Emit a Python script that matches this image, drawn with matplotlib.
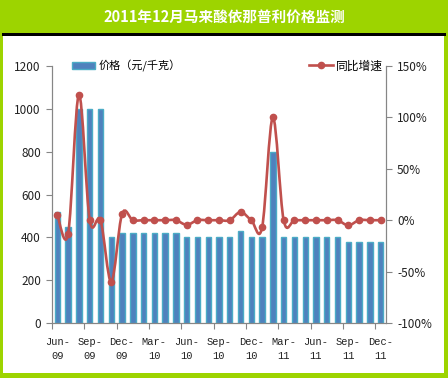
import numpy as np
import matplotlib
matplotlib.use("Agg")
import matplotlib.pyplot as plt
from matplotlib.patches import Rectangle, PathPatch
from matplotlib.path import Path
from matplotlib.lines import Line2D

plt.rcParams['font.family'] = ['Noto Sans CJK SC', 'DejaVu Sans']

# data
months = ['Jun-09', 'Jul-09', 'Aug-09', 'Sep-09', 'Oct-09', 'Nov-09', 'Dec-09',
          'Jan-10', 'Feb-10', 'Mar-10', 'Apr-10', 'May-10', 'Jun-10', 'Jul-10',
          'Aug-10', 'Sep-10', 'Oct-10', 'Nov-10', 'Dec-10', 'Jan-11', 'Feb-11',
          'Mar-11', 'Apr-11', 'May-11', 'Jun-11', 'Jul-11', 'Aug-11', 'Sep-11',
          'Oct-11', 'Nov-11', 'Dec-11']
price = [520, 450, 1000, 1000, 1000, 400, 420, 420, 420, 420, 420, 420, 400, 400,
         400, 400, 400, 430, 400, 400, 800, 400, 400, 400, 400, 400, 400, 380,
         377, 380, 380]
growth = [5, -13, 122, 0, 0, -60, 6, 0, 0, 0, 0, 0, -4.5, 0, 0, 0, 0, 8, 0, -7,
          100, 0, 0, 0, 0, 0, 0, -5, 0, 0, 0]
tick_labels = ['Jun-\n09', 'Sep-\n09', 'Dec-\n09', 'Mar-\n10', 'Jun-\n10', 'Sep-\n10',
               'Dec-\n10', 'Mar-\n11', 'Jun-\n11', 'Sep-\n11', 'Dec-\n11']
title = '2011年12月马来酸依那普利价格监测'
bar_label = '价格（元/千克）'
line_label = '同比增速'

green = '#9dd400'
blue = '#4f81bd'
cyan = '#4bacc6'
red = '#c0504d'
gray = '#868686'

W, H = 448, 378
fig = plt.figure(figsize=(W / 100, H / 100), dpi=100)
fig.patch.set_facecolor(green)

# white panel + black rule under the title bar
fig.add_artist(Rectangle((2.5 / W, 5 / H), (444 - 2.5) / W, (342 - 5) / H,
                         transform=fig.transFigure, facecolor='white',
                         edgecolor='none', zorder=0))
fig.add_artist(Rectangle((2 / W, (H - 36) / H), (445.5 - 2) / W, 3 / H,
                         transform=fig.transFigure, facecolor='black',
                         edgecolor='none', zorder=1))
fig.text(0.5, (H - 17) / H, title, ha='center', va='center', color='white',
         fontsize=10.5, fontweight='bold')

ax = fig.add_axes([52 / W, (H - 323) / H, (386 - 52) / W, (323 - 66) / H])
ax.set_facecolor('none')
x = np.arange(len(months))
ax.bar(x, price, width=0.5, color=blue, edgecolor=cyan, linewidth=1,
       label=bar_label, zorder=2)
ax.set_xlim(-0.5, len(months) - 0.5)
ax.set_ylim(0, 1200)
ax.set_yticks(range(0, 1201, 200))

ax2 = ax.twinx()
ax2.set_ylim(-100, 150)
ax2.set_yticks(range(-100, 151, 50))
ax2.set_yticklabels([f'{v}%' for v in range(-100, 151, 50)])

# smoothed line (Bezier path through the data points)
pts = np.column_stack([x, growth]).astype(float)
verts = [pts[0]]
codes = [Path.MOVETO]
n = len(pts)
for i in range(n - 1):
    p0 = pts[max(i - 1, 0)]
    p1 = pts[i]
    p2 = pts[i + 1]
    p3 = pts[min(i + 2, n - 1)]
    c1 = p1 + (p2 - p0) / 6
    c2 = p2 - (p3 - p1) / 6
    verts += [c1, c2, p2]
    codes += [Path.CURVE4] * 3
ax2.add_patch(PathPatch(Path(verts, codes), facecolor='none', edgecolor=red,
                        linewidth=1.9, zorder=3))
ax2.plot(x, growth, linestyle='none', marker='o', markersize=4.5, color=red,
         zorder=4)

for a in (ax, ax2):
    for s in a.spines.values():
        s.set_color(gray)
    a.spines['top'].set_visible(False)
ax.tick_params(axis='y', direction='out', length=4, color=gray, labelsize=8.5,
               pad=4, labelcolor='#222222')
ax2.tick_params(axis='y', direction='out', length=4, color=gray, labelsize=8.5,
                pad=4, labelcolor='#222222')

ax.set_xticks(np.arange(-0.5, len(months), 3))
ax.set_xticklabels([])
ax.tick_params(axis='x', direction='out', length=4, color=gray)
ax.set_xticks(np.arange(0, len(months), 3), minor=True)
ax.set_xticklabels(tick_labels, minor=True, family='Liberation Mono',
                   fontsize=7.5, linespacing=1.55)
ax.tick_params(axis='x', which='minor', length=0, pad=10, labelcolor='#222222')

# legends
h1 = Rectangle((0, 0), 1, 1, facecolor=blue, edgecolor=cyan, linewidth=1)
ax.legend([h1], [bar_label], loc='center left', bbox_to_anchor=(0.06, 1.0),
          frameon=False, fontsize=8, handlelength=2.1, handleheight=0.65,
          handletextpad=0.25, borderaxespad=0, borderpad=0)
h2 = Line2D([], [], color=red, linewidth=1.9, marker='o', markersize=4.5)
ax2.legend([h2], [line_label], loc='center right', bbox_to_anchor=(0.99, 1.0),
           frameon=False, fontsize=8.5, handlelength=2.1, handletextpad=0.2,
           borderaxespad=0, borderpad=0)

fig.savefig('out.png', dpi=100, facecolor=green)
